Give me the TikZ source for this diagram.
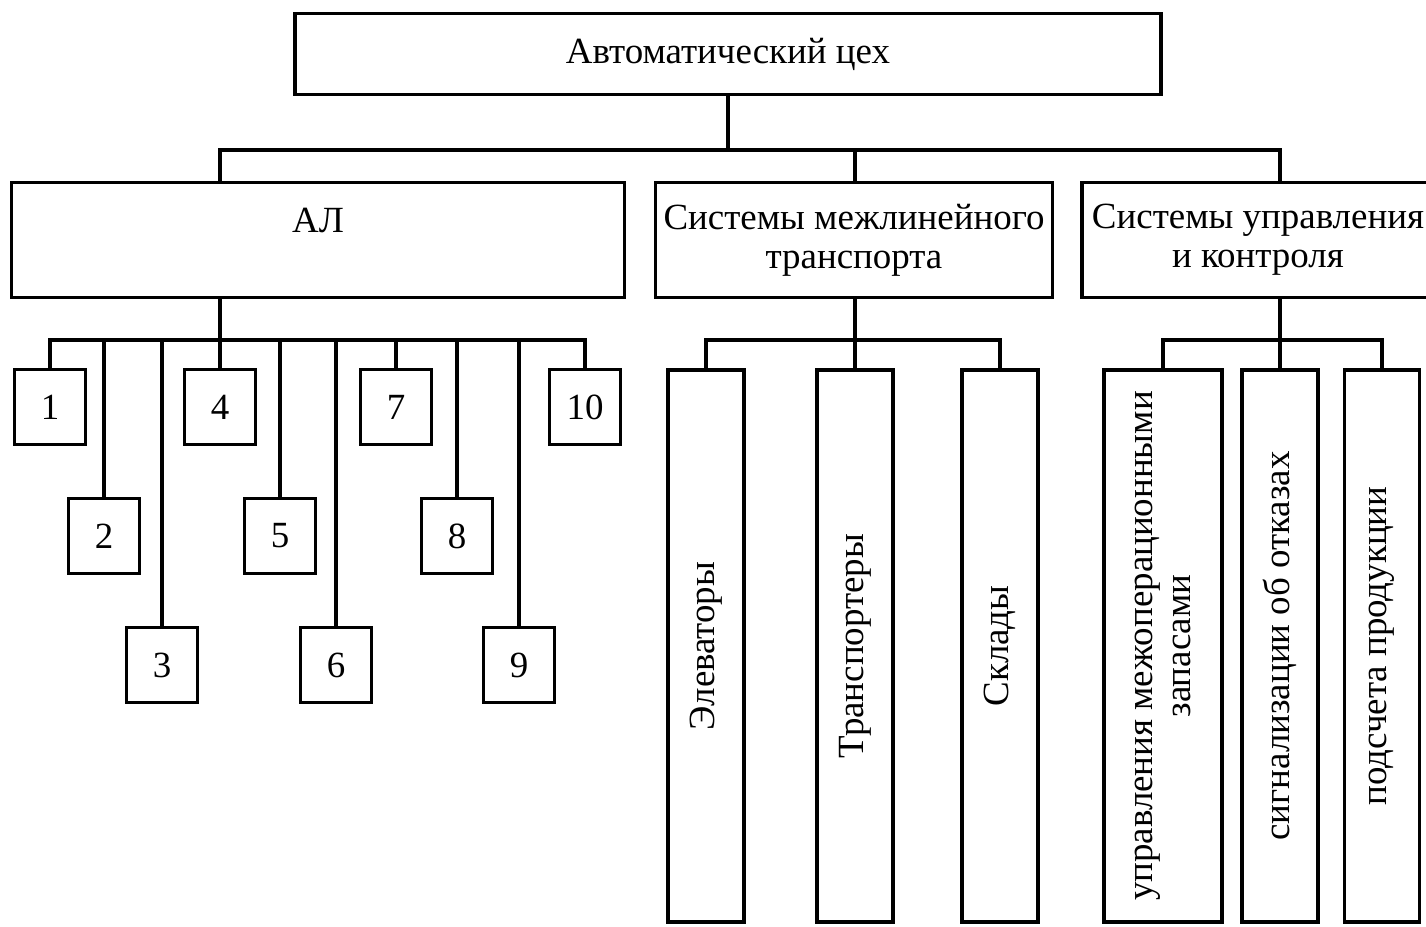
\documentclass[tikz,border=0pt]{standalone}
\usepackage{fontspec}
\setmainfont{Liberation Serif}
\begin{document}
\begin{tikzpicture}[x=0.01cm, y=-0.01cm,
  box/.style={draw, line width=1pt, inner sep=1pt, align=center, font=\fontsize{10.5}{11}\selectfont},
  numbox/.style={box, minimum width=0.71cm, minimum height=0.75cm},
  vbox/.style={box, rotate=90, minimum width=5.52cm, minimum height=0.76cm},
  link/.style={line width=1pt}]

% picture size in px:
\pgfmathsetmacro\pwidth{1426};
\pgfmathsetmacro\pheight{926};

\clip (0,0) rectangle (\pwidth,\pheight);

% upper levels
\node[box, minimum width=8.65cm, minimum height=0.81cm] (top) at (728,54) {Автоматический цех};
\node[box, minimum width=6.13cm, minimum height=1.15cm] (al) at (318,240) {АЛ\\~};
\node[box, minimum width=3.97cm, minimum height=1.15cm] (trans) at (854,240) {Системы межлинейного\\транспорта};
\node[box, minimum width=3.52cm, minimum height=1.15cm] (ctrl) at (1258,240) {Системы управления\\и контроля};

% numbered boxes under AL, three rows
\foreach \n/\x in {1/50,2/104,3/162,4/220,5/280,6/336,7/396,8/457,9/519,10/585}{
  \pgfmathtruncatemacro\row{mod(\n-1,3)}
  \node[numbox] (m\n) at (\x,407+129*\row) {\n};
}

% transport
\node[vbox] (el) at (706,646) {Элеваторы};
\node[vbox] (tr) at (855,646) {Транспортеры};
\node[vbox] (sk) at (1000,646) {Склады};

% control
\node[vbox, minimum height=1.18cm] (c1) at (1163,646) {управления межоперационными\\запасами};
\node[vbox] (c2) at (1280,646) {сигнализации об отказах};
\node[vbox, minimum height=0.75cm] (c3) at (1382,646) {подсчета продукции};

% buses
\coordinate (topbus) at (728,150);
\coordinate (albus) at (m4.north |- 0,340);
\coordinate (transbus) at (tr.east |- 0,340);
\coordinate (ctrlbus) at (c2.east |- 0,340);

\draw[link] (top.south) -- (topbus);
\draw[link] (al.north -| m4.north) |- (topbus);
\draw[link] (trans.north -| tr.east) |- (topbus);
\draw[link] (ctrl.north -| c2.east) |- (topbus);

\draw[link] (al.south -| m4.north) -- (albus);
\foreach \n in {1,...,10}
  \draw[link] (m\n.north) |- (albus);

\draw[link] (trans.south -| tr.east) -- (transbus);
\foreach \v in {el,tr,sk}
  \draw[link] (\v.east) |- (transbus);

\draw[link] (ctrl.south -| c2.east) -- (ctrlbus);
\foreach \v in {c1,c2,c3}
  \draw[link] (\v.east) |- (ctrlbus);

\end{tikzpicture}
\end{document}
